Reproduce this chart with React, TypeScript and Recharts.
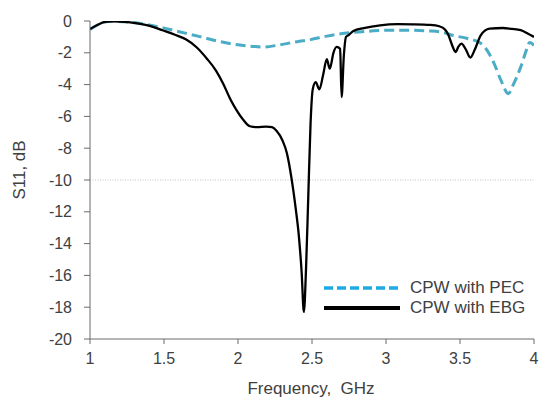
import {
  LineChart,
  Line,
  XAxis,
  YAxis,
  ReferenceLine,
  Legend,
} from 'recharts'

const xTicks = [1, 1.5, 2, 2.5, 3, 3.5, 4]
const yTicks = [0, -2, -4, -6, -8, -10, -12, -14, -16, -18, -20]

const pecFreq = [
  1.0, 1.05, 1.1, 1.15, 1.27, 1.4, 1.5, 1.61, 1.75, 1.88, 2.0, 2.1, 2.17, 2.28,
  2.4, 2.49, 2.6, 2.76, 2.9, 3.03, 3.15, 3.3, 3.4, 3.45, 3.55, 3.64, 3.7, 3.73,
  3.78, 3.826, 3.86, 3.91, 3.95, 3.97, 4.0,
]
const pecS11 = [
  -0.54, -0.25, -0.06, -0.02, -0.08, -0.25, -0.45, -0.69, -1.0, -1.3, -1.5,
  -1.6, -1.64, -1.5, -1.3, -1.17, -0.95, -0.73, -0.63, -0.58, -0.58, -0.63,
  -0.75, -0.9, -1.1, -1.4, -2.1, -2.66, -3.8, -4.57, -4.0, -2.9, -1.8, -1.35,
  -1.53,
]

const ebgFreq = [
  1.0, 1.05, 1.1, 1.15, 1.2, 1.27, 1.35, 1.42, 1.49, 1.57, 1.65, 1.72, 1.79,
  1.85, 1.9, 1.95, 1.99, 2.03, 2.08, 2.13, 2.19, 2.23, 2.26, 2.3, 2.33, 2.36,
  2.39, 2.41, 2.43, 2.445, 2.46, 2.475, 2.49, 2.505, 2.525, 2.55, 2.575, 2.6,
  2.62, 2.645, 2.666, 2.69, 2.7, 2.715, 2.73, 2.745, 2.78, 2.85, 2.96, 3.08,
  3.18, 3.3, 3.36, 3.4, 3.42, 3.45, 3.47, 3.49, 3.51, 3.54, 3.57, 3.6, 3.64,
  3.7, 3.79, 3.85, 3.91, 3.96, 4.0,
]
const ebgS11 = [
  -0.5, -0.25, -0.06, -0.02, -0.03, -0.08, -0.2, -0.35, -0.58, -0.85, -1.17,
  -1.65, -2.37, -3.1, -3.94, -4.95, -5.6, -6.15, -6.62, -6.68, -6.64, -6.68,
  -6.9, -7.5, -8.3, -9.8, -11.8, -13.4, -15.8, -18.3, -15.5, -11.0, -6.5, -4.3,
  -3.85, -4.3, -3.4, -2.4, -3.0, -2.0, -1.63, -1.75, -4.78, -2.2, -1.0, -0.9,
  -0.63, -0.45, -0.27, -0.2, -0.21, -0.25, -0.33, -0.55, -0.85, -1.6, -1.95,
  -1.6, -1.42, -1.8, -2.3, -1.8, -0.9, -0.48, -0.44, -0.5, -0.58, -0.8, -1.0,
]

const pecData = pecFreq.map((f, i) => ({ f, v: pecS11[i] }))
const ebgData = ebgFreq.map((f, i) => ({ f, v: ebgS11[i] }))

const FONT = '"Liberation Sans", Arial, sans-serif'
const TEXT = '#404040'
const AXIS = '#6b6b6b'
const PEC = '#4BACC6'

function LegendBox() {
  const row = { display: 'flex', alignItems: 'center', height: 20 }
  return (
    <div style={{ fontFamily: FONT, fontSize: 17, color: TEXT }}>
      <div style={row}>
        <svg width={86} height={10}>
          <line x1={0} y1={5} x2={76} y2={5} stroke="#1EAAE2" strokeWidth={3.5} strokeDasharray="9 4" />
        </svg>
        <span>CPW with PEC</span>
      </div>
      <div style={row}>
        <svg width={86} height={10}>
          <line x1={0} y1={5} x2={76} y2={5} stroke="#000" strokeWidth={4} />
        </svg>
        <span>CPW with EBG</span>
      </div>
    </div>
  )
}

export default function App() {
  return (
    <div style={{ position: 'fixed', left: 0, top: 0, width: 539, height: 406, background: '#fff' }}>
      <LineChart
        width={539}
        height={406}
        margin={{ top: 21, right: 5, bottom: 0, left: 0 }}
        style={{ fontFamily: FONT }}
      >
        <XAxis
          dataKey="f"
          type="number"
          domain={[1, 4]}
          ticks={xTicks}
          allowDataOverflow
          height={67}
          stroke={AXIS}
          tickSize={5}
          tickMargin={9}
          tick={{ fill: TEXT, fontSize: 16 }}
          label={() => (
            <text x={311} y={394} textAnchor="middle" fill={TEXT} fontSize={17} fontFamily={FONT}>
              {'Frequency,\u00a0 GHz'}
            </text>
          )}
        />
        <YAxis
          type="number"
          domain={[-20, 0]}
          ticks={yTicks}
          allowDataOverflow
          width={90}
          stroke={AXIS}
          tickSize={6}
          tickMargin={12}
          tick={{ fill: TEXT, fontSize: 16 }}
          label={() => (
            <text
              x={19}
              y={170}
              transform="rotate(-90 19 170)"
              textAnchor="middle"
              dominantBaseline="central"
              fill={TEXT}
              fontSize={17}
              fontFamily={FONT}
            >
              S11, dB
            </text>
          )}
        />
        <ReferenceLine y={-10} stroke="#c4c4c4" strokeDasharray="1 1.5" />
        <Legend
          layout="horizontal"
          verticalAlign="middle"
          align="center"
          wrapperStyle={{ position: 'absolute', left: 324, top: 278, width: 215 }}
          content={() => <LegendBox />}
        />
        <Line
          data={pecData}
          dataKey="v"
          type="monotone"
          stroke={PEC}
          strokeWidth={3}
          strokeDasharray="10 5"
          dot={false}
          isAnimationActive={false}
        />
        <Line
          data={ebgData}
          dataKey="v"
          type="monotone"
          stroke="#000"
          strokeWidth={2.3}
          dot={false}
          isAnimationActive={false}
        />
      </LineChart>
    </div>
  )
}
